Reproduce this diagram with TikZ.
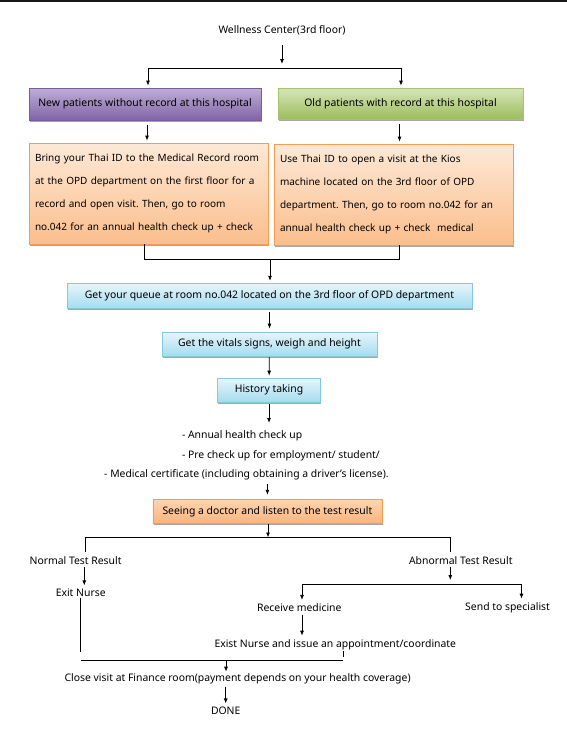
\documentclass[tikz,border=0pt]{standalone}
\usepackage{fontspec}
\setmainfont{Noto Sans}
\usetikzlibrary{arrows.meta,shadows}
\frenchspacing

\definecolor{purpletop}{HTML}{BFAED6}
\definecolor{purplebot}{HTML}{8064A6}
\definecolor{purpleline}{HTML}{7A5C9E}
\definecolor{greentop}{HTML}{D6E5B8}
\definecolor{greenbot}{HTML}{9CBD5C}
\definecolor{greenline}{HTML}{A6C46C}
\definecolor{peachtop}{HTML}{FDE9D7}
\definecolor{peachbot}{HTML}{FBBE8C}
\definecolor{orangeline}{HTML}{F59B52}
\definecolor{orangetop}{HTML}{FDD5B2}
\definecolor{orangebot}{HTML}{FAB37D}
\definecolor{bluetop}{HTML}{E6F6FC}
\definecolor{bluebot}{HTML}{A6DBEF}
\definecolor{blueline}{HTML}{86C8E0}

\tikzset{
  box/.style={rectangle, draw, line width=0.8pt, inner sep=0pt,
    general shadow={fill=black!35, shadow yshift=-1.6pt, shadow xshift=0.6pt}},
  purplebox/.style={box, draw=purpleline, top color=purpletop, bottom color=purplebot},
  greenbox/.style={box, draw=greenline, top color=greentop, bottom color=greenbot},
  peachbox/.style={box, draw=orangeline, top color=peachtop, bottom color=peachbot,
    minimum width=239pt, minimum height=101pt, text width=227pt, align=left,
    font=\fontsize{10pt}{22.8pt}\selectfont},
  orangebox/.style={box, draw=orangeline, top color=orangetop, bottom color=orangebot},
  bluebox/.style={box, draw=blueline, top color=bluetop, bottom color=bluebot},
}

\begin{document}
\begin{tikzpicture}[x=1pt, y=-1pt, >={Latex[length=5pt,width=4pt]}, line width=0.8pt,
  every node/.style={font=\fontsize{10.4pt}{12pt}\selectfont, inner sep=1pt}]
\useasboundingbox (0,0) rectangle (567,740);
\draw [line width=1.6pt, black!90] (0,0.8) -- (567,0.8);

% entry
\node (title) at (282,30) {Wellness Center(3rd floor)};
\node [purplebox, minimum width=232pt, minimum height=32pt] (newp) at (145,104)
  {New patients without record at this hospital};
\node [greenbox, minimum width=245pt, minimum height=31pt] (oldp) at (400.5,103.5)
  {Old patients with record at this hospital};
\node [peachbox] (recl) at (148.5,193.5)
  {Bring your Thai ID to the Medical Record room\\
   at the OPD department on the first floor for a\\
   record and open visit. Then, go to room\\
   no.042 for an annual health check up + check};
\node [peachbox] (recr) at (393.5,194.5)
  {Use Thai ID to open a visit at the Kios\\
   machine located on the 3rd floor of OPD\\
   department. Then, go to room no.042 for an\\
   annual health check up + check\ \ medical};

% common path
\node [bluebox, minimum width=405pt, minimum height=25pt] (queue) at (269.5,295.7)
  {Get your queue at room no.042 located on the 3rd floor of OPD department};
\node [bluebox, minimum width=215pt, minimum height=24pt] (vitals) at (269.5,344)
  {Get the vitals signs, weigh and height};
\node [bluebox, minimum width=103pt, minimum height=24pt] (hist) at (269,390)
  {History taking};
\node [anchor=west] (annual) at (180.6,435.7) {- Annual health check up};
\node [anchor=west] (pre) at (180.6,455.7) {- Pre check up for employment/ student/};
\node [anchor=west] (med) at (102.8,474.3)
  {- Medical certificate (including obtaining a driver's license).};
\node [orangebox, minimum width=229pt, minimum height=24.5pt] (doctor) at (267.4,511.5)
  {Seeing a doctor and listen to the test result};

% results
\node (normal) at (75.6,560.7) {Normal Test Result};
\node (abnormal) at (460.8,560.7) {Abnormal Test Result};
\node (exitn) at (80.7,592.7) {Exit Nurse};
\node (receive) at (299.3,607.3) {Receive medicine};
\node (special) at (507.6,607.3) {Send to specialist};
\node (issue) at (335.3,644.3) {Exist Nurse and issue an appointment/coordinate};
\node (close) at (237.6,678.3) {Close visit at Finance room(payment depends on your health coverage)};
\node (done) at (225.7,710.7) {DONE};

\coordinate (tarr) at (282,64);
\coordinate (sL) at (148,68);
\coordinate (sR) at (401,68);
\coordinate (mL) at (144,259);
\coordinate (mR) at (399,259);
\coordinate (mM) at (270,259);
\coordinate (harr) at (269,423);
\coordinate (dL) at (85.5,537.5);
\coordinate (dM) at (268,537.5);
\coordinate (dR) at (450.3,537.5);
\coordinate (nx) at (84.3,570);
\coordinate (aR) at (450.3,580);
\coordinate (rL) at (302,584);
\coordinate (rR) at (521.5,584);
\coordinate (jL) at (80.3,652);
\coordinate (hL) at (81.4,660.3);
\coordinate (hM) at (226,660.3);
\coordinate (hR) at (342.9,660.3);
\coordinate (tick) at (342.9,656.7);

\draw [->, shorten <=9pt] (title) -- (tarr);
\draw (sL) -- (sR);
\draw [->, shorten >=2pt] (sL) -- (sL |- newp.north);
\draw [->, shorten >=2pt] (sR) -- (sR |- oldp.north);
\draw [->, shorten <=5pt, shorten >=2pt] ([xshift=2pt]newp.south) -- ([xshift=2pt]newp.south |- recl.north);
\draw [->, shorten <=5pt, shorten >=2pt] ([xshift=-1pt]oldp.south) -- ([xshift=-1pt]oldp.south |- recr.north);
\draw (recl.south -| mL) -- (mL) -- (mR) -- (recr.south -| mR);
\draw [->, shorten >=2pt] (mM) -- (mM |- queue.north);
\draw [->, shorten <=3pt, shorten >=3pt] (queue) -- (vitals);
\draw [->, shorten <=1pt, shorten >=2pt] (vitals) -- (hist);
\draw [->, shorten <=2pt] (hist) -- (harr);
\draw [->, shorten <=3pt, shorten >=4pt] (med.south -| doctor.north) -- (doctor.north);
\draw [->] (doctor.south -| dM) -- (dM);
\draw [shorten <=3pt, shorten >=3pt] (normal.north -| dL) -- (dL) -- (dR) -- (abnormal.north -| dR);
\draw [->, shorten <=1pt, shorten >=2pt] (normal.south -| nx) -- (exitn.north -| nx);
\draw (exitn.south -| jL) -- (jL);
\draw [->, shorten <=1pt] (abnormal.south -| aR) -- (aR);
\draw (rL) -- (rR);
\draw [->, shorten >=2pt] (rL) -- (rL |- receive.north);
\draw [->, shorten >=2pt] (rR) -- (rR |- special.north);
\draw [->, shorten <=2pt, shorten >=2pt] (receive.south -| rL) -- (rL |- issue.north);
\draw (hL) -- (hR);
\draw (issue.south -| tick) -- (tick);
\draw [->] (hM) -- (hM |- close.north);
\draw [->, shorten <=2pt, shorten >=2pt] (close.south -| done) -- (done);
\end{tikzpicture}
\end{document}
